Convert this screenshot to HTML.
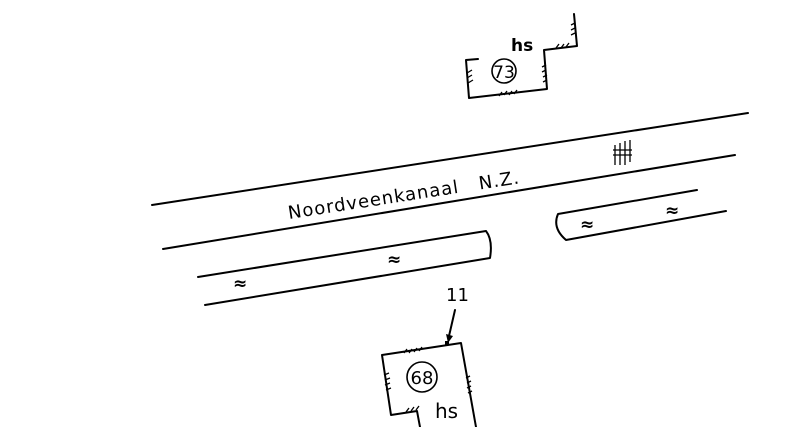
<!DOCTYPE html>
<html><head><meta charset="utf-8"><style>
html,body{margin:0;padding:0;background:#fff;width:800px;height:427px;overflow:hidden}
svg{display:block}
text{font-family:"DejaVu Sans","Liberation Sans",sans-serif;fill:#000}
</style></head><body>
<svg width="800" height="427" viewBox="0 0 800 427" xmlns="http://www.w3.org/2000/svg">
<g stroke="#000" stroke-width="2" fill="none" stroke-linecap="round" stroke-linejoin="round">
<line x1="152" y1="205" x2="748" y2="113"/>
<line x1="163" y1="249" x2="735" y2="155"/>
<path d="M198 277 L486 231 Q493 240 490 258 L205 305"/>
<path d="M697 190 L558 214 Q552 228 566 240 L726 211"/>
<path d="M478 59 L466 60 L469 98 L547 89 L544 50 L577 46 L574 14"/>
<path d="M420 427 L417 411 L391 415 L382 355 L461 343 L476 427"/>
<line x1="455" y1="310" x2="449" y2="336"/>
</g>
<polygon points="446,334 453,336 448,343" fill="#000"/>
<rect x="445" y="341" width="4" height="4" fill="#000"/>
<g stroke="#000" stroke-width="1.3">
<path d="M467 73 l5 -3 M467 78 l5 -3 M468 83 l5 -3"/>
<path d="M542 67 l4 -2 M542 72 l4 -2 M543 77 l4 -2 M543 82 l4 -2"/>
<path d="M499 96 l3 -4 M504 95 l3 -4 M509 95 l3 -4 M514 94 l3 -4"/>
<path d="M556 48 l3 -4 M561 48 l3 -4 M566 47 l3 -4"/>
<path d="M571 25 l4 -2 M571 30 l4 -2 M571 35 l4 -2"/>
<path d="M404 353 l3 -4 M409 353 l3 -4 M414 352 l3 -4 M419 351 l3 -4"/>
<path d="M384 375 l5 -2 M385 380 l5 -2 M385 385 l5 -2 M386 390 l5 -2"/>
<path d="M466 378 l4 -2 M467 383 l4 -2 M467 388 l4 -2 M468 393 l4 -2"/>
<path d="M406 412 l3 -4 M411 411 l3 -4 M416 410 l3 -4"/>
<path d="M615 145 v20 M620 143 v22 M625 141 v24 M630 140 v22 M613 155 h19 M613 150 h19"/>
</g>
<circle cx="504" cy="71" r="12" fill="none" stroke="#000" stroke-width="1.6"/>
<text x="504" y="78" font-size="17" text-anchor="middle">73</text>
<circle cx="422" cy="377" r="15" fill="none" stroke="#000" stroke-width="1.6"/>
<text x="422" y="384" font-size="18" text-anchor="middle">68</text>
<text x="511" y="51" font-size="17" font-weight="bold">hs</text>
<text x="435" y="418" font-size="20">hs</text>
<text x="446" y="301" font-size="18">11</text>
<text transform="translate(289 219) rotate(-8.8)" font-size="18" letter-spacing="1" xml:space="preserve">Noordveenkanaal   N.Z.</text>
<g font-size="17" font-weight="bold">
<text x="233" y="289">≈</text>
<text x="387" y="265">≈</text>
<text x="580" y="230">≈</text>
<text x="665" y="216">≈</text>
</g>
</svg>
</body></html>
